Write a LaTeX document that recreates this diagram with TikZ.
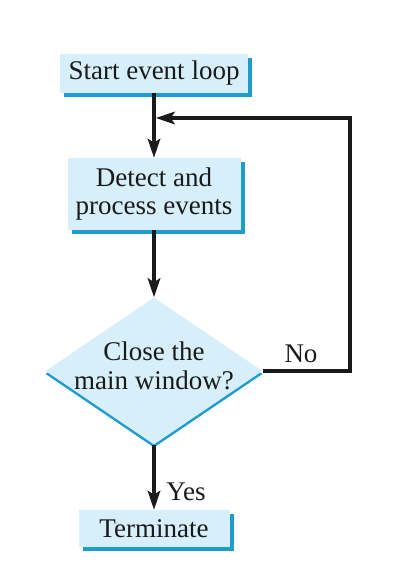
\documentclass[tikz,border=0pt]{standalone}
\usepackage{fontspec}
\setmainfont{Liberation Serif}
\usetikzlibrary{arrows.meta,shapes.geometric,shadows}
\definecolor{boxfill}{HTML}{D6EFFB}
\definecolor{boxshade}{HTML}{1E9BCF}
\definecolor{ink}{HTML}{1A1A1A}
\begin{document}
\begin{tikzpicture}[x=1pt,y=-1pt,
  every node/.style={font=\fontsize{27}{28.5}\selectfont, text=ink},
  procbox/.style={rectangle, fill=boxfill, inner sep=0pt, align=center,
    copy shadow={shadow xshift=4pt, shadow yshift=-4pt, fill=boxshade, draw=none}},
  decision/.style={diamond, fill=boxfill, inner sep=0pt,
    minimum width=217pt, minimum height=147pt,
    copy shadow={shadow xshift=0pt, shadow yshift=-3pt, fill=boxshade, draw=none}},
  flow/.style={draw=ink, line width=3.5pt, -{Stealth[length=19pt,width=12.5pt,inset=4pt]}},
  lbl/.style={inner sep=0pt}
]
\useasboundingbox (0,0) rectangle (417,573);
\node[procbox, minimum width=188pt, minimum height=39pt] (start) at (154,73.5) {Start event loop};
\node[procbox, minimum width=173pt, minimum height=72pt] (detect) at (154,194) {Detect and\\process events};
\node[decision] (q) at (154,371) {};
\node[align=center, inner sep=0pt] (qtext) at (154,366) {Close the\\main window?};
\node[procbox, minimum width=151pt, minimum height=37pt] (term) at (154,528.5) {Terminate};
\coordinate (join) at (154,118);
\coordinate (loopc) at (350,118);
\draw[flow] (start.south) -- (detect.north);
\draw[flow] (detect.south) -- (q.north);
\draw[flow] (q.south) -- (term.north);
\draw[flow, shorten >=1.75pt] (q.east) -| (loopc) -- (join);
\node[lbl] (no) at (301,354) {No};
\node[lbl] (yes) at (186,492) {Yes};
\end{tikzpicture}
\end{document}
